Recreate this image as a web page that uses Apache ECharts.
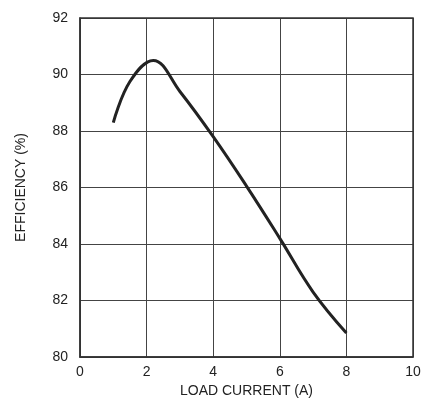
<!DOCTYPE html>
<html><head><meta charset="utf-8">
<script src="https://cdn.jsdelivr.net/npm/echarts@6/dist/echarts.min.js"></script>
<style>html,body{margin:0;padding:0;background:#fff}#c{width:435px;height:416px}</style>
</head><body><div id="c"></div>
<script>
const loadCurrent = [1, 1.5, 2.2, 3, 4, 5, 6, 7, 8];
const efficiency = [88.3, 89.75, 90.5, 89.4, 87.8, 86.05, 84.2, 82.3, 80.85];
const chart = echarts.init(document.getElementById('c'));
const axisFont = {color:'#222', fontFamily:'Liberation Sans Narrow, Liberation Sans, Arial', fontSize:14};
chart.setOption({
  animation:false,
  grid:{left:80, right:22, top:18, bottom:59},
  xAxis:{type:'value', min:0, max:10, interval:2,
    name:'LOAD CURRENT (A)', nameLocation:'middle', nameGap:22, nameTextStyle:axisFont,
    axisLabel:Object.assign({margin:8}, axisFont),
    axisLine:{lineStyle:{color:'#333', width:1.5}}, axisTick:{show:false},
    splitLine:{lineStyle:{color:'#444', width:1}}},
  yAxis:{type:'value', min:80, max:92, interval:2,
    name:'EFFICIENCY (%)', nameLocation:'middle', nameGap:52, nameTextStyle:axisFont,
    axisLabel:Object.assign({margin:12}, axisFont),
    axisLine:{show:true, lineStyle:{color:'#333', width:1.5}}, axisTick:{show:false},
    splitLine:{lineStyle:{color:'#444', width:1}}},
  series:[{type:'line', smooth:0.4, showSymbol:false,
    data:loadCurrent.map((x,i)=>[x, efficiency[i]]),
    lineStyle:{color:'#222', width:3}}]
});
chart.setOption({graphic:[{type:'rect', shape:{x:80, y:18, width:333, height:339}, style:{fill:'none', stroke:'#333', lineWidth:1.5}}]});
</script></body></html>
